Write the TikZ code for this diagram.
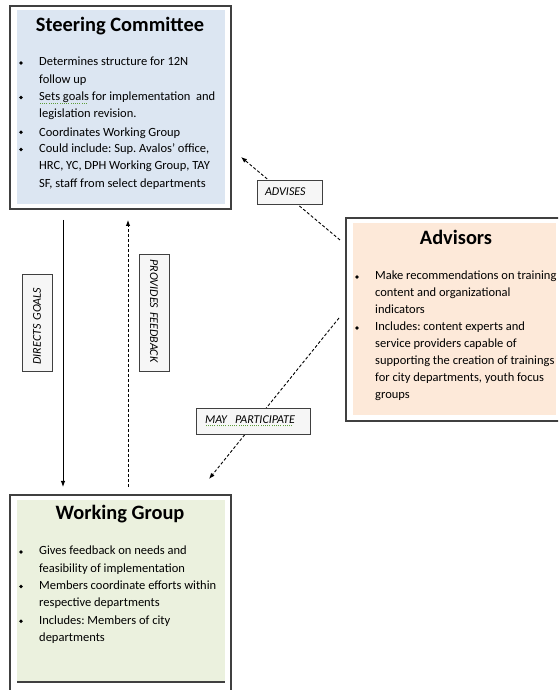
\documentclass[tikz,border=0pt]{standalone}
\usepackage{fontspec}
\setmainfont{Carlito}
\usetikzlibrary{arrows.meta}
\definecolor{scblue}{HTML}{DCE6F2}
\definecolor{advpeach}{HTML}{FDE9D9}
\definecolor{wggreen}{HTML}{EBF1DE}
\definecolor{boxgray}{HTML}{404040}
\definecolor{gramgreen}{HTML}{5E9E3A}
\newsavebox\gramsave
\newcommand\gramwave[1]{\sbox\gramsave{#1}\rlap{\usebox\gramsave}\raisebox{-3pt}{\textcolor{gramgreen}{\leaders\hbox to 2.2pt{\hss\rule{0.9pt}{0.9pt}\hss}\hskip\wd\gramsave}}}
\frenchspacing

\begin{document}
\begin{tikzpicture}[x=1pt,y=1pt,
	main_box/.style={draw=boxgray,line width=1.4pt,inner sep=0pt},
	title_text/.style={font=\bfseries\fontsize{20.4}{24}\selectfont,inner sep=0pt},
	item_text/.style={anchor=north west,align=left,inner sep=0pt,font=\fontsize{12.5}{17.3}\selectfont,execute at begin node={\rule{0pt}{10pt}}},
	link_label/.style={draw=boxgray,line width=0.8pt,fill=gray!7,align=left,inner ysep=0pt,font=\itshape\fontsize{12}{14}\selectfont},
	goes_to/.style={-{Latex[length=6pt,width=4.5pt]},line width=1pt},
	maybe_to/.style={goes_to,dash pattern=on 3pt off 2pt,line width=0.9pt}]
	\useasboundingbox (0,0) rectangle (558,690);
	\clip (0,0) rectangle (558,690);

	\fill[scblue] (17,486) rectangle (225,680);
	\fill[advpeach] (353,275) rectangle (556,467);
	\fill[wggreen] (17,8) rectangle (225,190);
	\draw[boxgray,line width=1.2pt] (17,8) -- (225,8);

	\node[main_box,minimum width=221pt,minimum height=203pt] (sc) at (120.5,582.5) {};
	\node[main_box,minimum width=216pt,minimum height=203pt] (adv) at (454,370.5) {};
	\node[main_box,minimum width=221pt,minimum height=205pt] (wg) at (120.5,92.5) {};

	\node[title_text] (sc_title) at (120,664) {Steering Committee};
	\node[title_text] (adv_title) at (456,453) {Advisors};
	\node[title_text] (wg_title) at (120,176) {Working Group};

	% item tops sit 10pt above the first baseline
	\node[item_text] (sc_a) at (39,633) {Determines structure for 12N\\follow up};
	\node[item_text] (sc_b) at (39,598.4) {\gramwave{Sets goals} for implementation\ \ and\\legislation revision.};
	\node[item_text] (sc_c) at (39,563.8) {Coordinates Working Group};
	\node[item_text] (sc_d) at (39,546.5) {Could include: Sup. Avalos’ office,\\HRC, YC, DPH Working Group, TAY\\SF, staff from select departments};

	\node[item_text,font=\fontsize{12.5}{17}\selectfont] (adv_a) at (375,419) {Make recommendations on training\\content and organizational\\indicators};
	\node[item_text,font=\fontsize{12.5}{17}\selectfont] (adv_b) at (375,368) {Includes: content experts and\\service providers capable of\\supporting the creation of trainings\\for city departments, youth focus\\groups};

	\node[item_text] (wg_a) at (39,144) {Gives feedback on needs and\\feasibility of implementation};
	\node[item_text] (wg_b) at (39,109.4) {Members coordinate efforts within\\respective departments};
	\node[item_text] (wg_c) at (39,74.8) {Includes: Members of city\\departments};

	\foreach \item in {sc_a,sc_b,sc_c,sc_d,adv_a,adv_b,wg_a,wg_b,wg_c}
		\fill ([xshift=-18pt,yshift=-6pt]\item.north west) circle (1.9pt);

	\coordinate (dg_start) at (63,470);
	\coordinate (dg_end) at (63,203);
	\coordinate (pf_start) at (128,203);
	\coordinate (pf_end) at (128,470);
	\coordinate (adv_start) at (340,450);
	\coordinate (adv_end) at (241,533);
	\coordinate (mp_start) at (339,372);
	\coordinate (mp_end) at (209,211);

	\draw[goes_to] (dg_start) -- (dg_end);
	\draw[maybe_to] (pf_start) -- (pf_end);
	\draw[maybe_to] (adv_start) -- (adv_end);
	\draw[maybe_to] (mp_start) -- (mp_end);

	\node[link_label,rotate=90,inner xsep=7pt,text width=83pt,minimum height=30pt] (dg_label) at (37,367) {DIRECTS GOALS};
	\node[link_label,rotate=-90,inner xsep=5pt,text width=107pt,minimum height=30pt] (pf_label) at (154,377) {PROVIDES FEEDBACK};
	\node[link_label,inner xsep=8pt,text width=49pt,minimum height=24pt] (adv_label) at (289.5,498) {ADVISES};
	\node[link_label,inner xsep=9pt,text width=96pt,minimum height=26pt] (mp_label) at (253,269) {\gramwave{MAY\ \ PARTICIPATE}};
\end{tikzpicture}
\end{document}
